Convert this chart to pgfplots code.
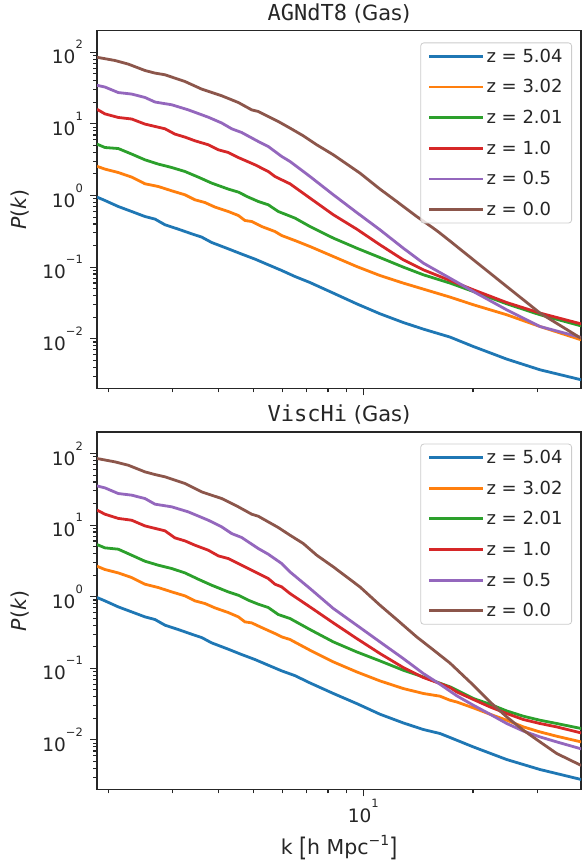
\documentclass[border=0pt]{standalone}
\usepackage{fontspec}
\setmainfont{DejaVu Sans}
\newfontfamily\monofont{DejaVu Sans Mono}
\usepackage{pgfplots}
\pgfplotsset{compat=1.18}
\definecolor{c0}{HTML}{1F77B4}
\definecolor{c1}{HTML}{FF7F0E}
\definecolor{c2}{HTML}{2CA02C}
\definecolor{c3}{HTML}{D62728}
\definecolor{c4}{HTML}{9467BD}
\definecolor{c5}{HTML}{8C564B}
\definecolor{ax}{HTML}{262626}
\definecolor{lgray}{HTML}{CCCCCC}
\newcommand{\sps}[1]{\raisebox{15pt}{\fontsize{11.5}{11.5}\selectfont#1}}
\begin{document}
\begin{tikzpicture}
\useasboundingbox (0,0) rectangle (581pt,864pt);
% ---------------- top panel ----------------
\begin{axis}[at={(97pt,475.7pt)}, anchor=south west,
    xmode=log, ymode=log,
    scale only axis,
    width=484pt, height=357.5pt,
    xmin=1.86, xmax=39.56,
    ymin=2.03e-3, ymax=199.7,
    tick align=outside,
    xtick pos=left, ytick pos=left,
    major tick length=7pt, minor tick length=4pt,
    every tick/.style={ax, line width=1.1pt},
    axis line style={ax, line width=1.25pt},
    xtick={10}, minor xtick={2,3,4,5,6,7,8,9,20,30},
    ytick={0.01,0.1,1,10,100},
    yticklabels={10\sps{−2},10\sps{−1},10\sps{0},10\sps{1},10\sps{2}},
    minor ytick={3e-3,4e-3,5e-3,6e-3,7e-3,8e-3,9e-3,2e-2,3e-2,4e-2,5e-2,6e-2,7e-2,8e-2,9e-2,0.2,0.3,0.4,0.5,0.6,0.7,0.8,0.9,2,3,4,5,6,7,8,9,20,30,40,50,60,70,80,90},
    tick label style={font=\fontsize{18.5}{18.5}\selectfont, text=ax},
    yticklabel style={inner xsep=7pt},
    ylabel={\textit{P}(\textit{k})},
    ylabel style={at={(axis description cs:-0.159,0.5)}, anchor=center, font=\fontsize{20.5}{20.5}\selectfont, text=ax},
    title style={at={(0.5,1)}, anchor=base, yshift=4.3pt, font=\fontsize{21}{21}\selectfont, text=ax},
    legend cell align=left,
    legend style={at={(1,1)}, anchor=north east, xshift=-9pt, yshift=-11.7pt,
      draw=lgray, line width=0.8pt, rounded corners=3pt, fill=white, fill opacity=0.8, text opacity=1,
      font=\fontsize{18}{18}\selectfont, text=ax, inner xsep=7pt, inner ysep=4pt, row sep=11.8pt},
    legend image code/.code={\draw[#1, line width=2.8pt] (0pt,0pt) -- (45pt,0pt); \path (0pt,0pt) -- (54pt,0pt);},
    xticklabels={},
    title={{\fontsize{22}{22}\monofont AGNdT8} (Gas)}]
\addplot[c0, line width=2.8pt] coordinates {(1.86,0.950) (1.956,0.852) (2.127,0.702) (2.315,0.598) (2.518,0.509) (2.683,0.468) (2.858,0.390) (3.108,0.339) (3.382,0.2918) (3.603,0.2624) (3.838,0.2207) (4.262,0.180) (4.639,0.152) (5.045,0.1293) (5.487,0.1077) (5.972,0.0897) (6.495,0.0739) (7.141,0.0609) (8.277,0.0433) (9.592,0.0307) (11.11,0.0223) (12.87,0.01684) (14.61,0.01362) (17.30,0.01053) (20.04,0.00778) (24.74,0.00519) (30.53,0.00368) (39.6,0.00267)};
\addlegendentry{z = 5.04}
\addplot[c1, line width=2.8pt] coordinates {(1.86,2.557) (1.956,2.337) (2.127,2.095) (2.315,1.807) (2.518,1.457) (2.739,1.336) (2.981,1.163) (3.242,1.023) (3.453,0.871) (3.679,0.798) (3.918,0.689) (4.262,0.598) (4.541,0.526) (4.736,0.4475) (4.941,0.4335) (5.263,0.369) (5.724,0.314) (5.972,0.276) (6.495,0.235) (7.141,0.194) (8.277,0.1406) (9.592,0.1019) (11.11,0.0763) (12.87,0.0598) (14.61,0.0493) (17.30,0.0381) (20.04,0.0298) (24.74,0.0216) (30.53,0.0148) (39.6,0.00965)};
\addlegendentry{z = 3.02}
\addplot[c2, line width=2.8pt] coordinates {(1.86,5.22) (1.956,4.68) (2.127,4.53) (2.315,3.79) (2.518,3.15) (2.739,2.745) (2.981,2.461) (3.242,2.164) (3.526,1.807) (3.838,1.490) (4.262,1.229) (4.541,1.116) (4.836,0.950) (5.151,0.825) (5.487,0.742) (5.845,0.598) (6.495,0.4835) (7.141,0.369) (8.277,0.254) (9.592,0.184) (11.11,0.136) (12.87,0.100) (14.61,0.0781) (17.30,0.0598) (20.04,0.0456) (24.74,0.0307) (30.53,0.0216) (39.6,0.0151)};
\addlegendentry{z = 2.01}
\addplot[c3, line width=2.8pt] coordinates {(1.86,16.0) (1.956,13.8) (2.127,12.3) (2.315,11.7) (2.518,9.94) (2.858,8.54) (3.043,7.20) (3.242,6.54) (3.453,5.81) (3.757,5.11) (4.001,4.35) (4.262,3.99) (4.541,3.39) (5.045,2.685) (5.487,2.164) (5.724,1.843) (5.972,1.657) (6.294,1.457) (7.141,0.920) (8.277,0.538) (9.592,0.3394) (11.11,0.2049) (12.87,0.1265) (14.61,0.0917) (17.30,0.0650) (20.04,0.0482) (24.74,0.0320) (30.53,0.0228) (39.6,0.0161)};
\addlegendentry{z = 1.0}
\addplot[c4, line width=2.8pt] coordinates {(1.86,34.6) (1.956,32.7) (2.127,27.4) (2.315,26.1) (2.518,23.4) (2.683,20.2) (2.981,18.5) (3.311,15.7) (3.757,12.4) (4.088,10.3) (4.355,8.54) (4.639,7.58) (5.151,5.68) (5.487,4.83) (5.972,3.51) (6.294,2.985) (7.141,1.843) (8.277,1.023) (9.592,0.579) (11.11,0.332) (12.87,0.184) (14.61,0.1137) (17.30,0.0699) (20.04,0.0456) (24.74,0.0253) (30.53,0.0148) (39.6,0.0104)};
\addlegendentry{z = 0.5}
\addplot[c5, line width=2.8pt] coordinates {(1.86,85.2) (2.084,76.8) (2.266,68.4) (2.518,55.7) (2.683,51.2) (2.858,48.5) (3.242,39.1) (3.603,30.6) (4.088,24.7) (4.541,19.9) (4.941,15.7) (5.151,14.9) (5.845,10.8) (6.294,8.74) (6.845,6.82) (7.451,5.11) (8.277,3.70) (9.79,2.055) (11.11,1.229) (12.35,0.825) (14.01,0.509) (15.56,0.3505) (16.23,0.2985) (17.30,0.2307) (20.04,0.1265) (24.74,0.0536) (30.53,0.0228) (39.6,0.0101)};
\addlegendentry{z = 0.0}
\end{axis}
% ---------------- bottom panel ----------------
\begin{axis}[at={(97pt,74.5pt)}, anchor=south west,
    xmode=log, ymode=log,
    scale only axis,
    width=484pt, height=357.5pt,
    xmin=1.86, xmax=39.56,
    ymin=2.03e-3, ymax=199.7,
    tick align=outside,
    xtick pos=left, ytick pos=left,
    major tick length=7pt, minor tick length=4pt,
    every tick/.style={ax, line width=1.1pt},
    axis line style={ax, line width=1.25pt},
    xtick={10}, minor xtick={2,3,4,5,6,7,8,9,20,30},
    ytick={0.01,0.1,1,10,100},
    yticklabels={10\sps{−2},10\sps{−1},10\sps{0},10\sps{1},10\sps{2}},
    minor ytick={3e-3,4e-3,5e-3,6e-3,7e-3,8e-3,9e-3,2e-2,3e-2,4e-2,5e-2,6e-2,7e-2,8e-2,9e-2,0.2,0.3,0.4,0.5,0.6,0.7,0.8,0.9,2,3,4,5,6,7,8,9,20,30,40,50,60,70,80,90},
    tick label style={font=\fontsize{18.5}{18.5}\selectfont, text=ax},
    yticklabel style={inner xsep=7pt},
    xticklabel style={inner ysep=2pt},
    ylabel={\textit{P}(\textit{k})},
    ylabel style={at={(axis description cs:-0.159,0.5)}, anchor=center, font=\fontsize{20.5}{20.5}\selectfont, text=ax},
    title style={at={(0.5,1)}, anchor=base, yshift=4.3pt, font=\fontsize{21}{21}\selectfont, text=ax},
    legend cell align=left,
    legend style={at={(1,1)}, anchor=north east, xshift=-9pt, yshift=-11.7pt,
      draw=lgray, line width=0.8pt, rounded corners=3pt, fill=white, fill opacity=0.8, text opacity=1,
      font=\fontsize{18}{18}\selectfont, text=ax, inner xsep=7pt, inner ysep=4pt, row sep=11.8pt},
    legend image code/.code={\draw[#1, line width=2.8pt] (0pt,0pt) -- (45pt,0pt); \path (0pt,0pt) -- (54pt,0pt);},
    xticklabels={10\sps{1}},
    xlabel={k \raisebox{-2pt}{\scalebox{1}[1.25]{[}}h Mpc\raisebox{9pt}{\fontsize{14}{14}\selectfont −1}\raisebox{-2pt}{\scalebox{1}[1.25]{]}}},
    xlabel style={at={(axis description cs:0.5,0)}, anchor=base, yshift=-65pt, font=\fontsize{20.5}{20.5}\selectfont, text=ax},
    title={{\fontsize{22}{22}\monofont ViscHi} (Gas)}]
\addplot[c0, line width=2.8pt] coordinates {(1.86,0.974) (1.956,0.875) (2.127,0.721) (2.315,0.614) (2.518,0.523) (2.683,0.480) (2.858,0.400) (3.108,0.348) (3.382,0.2995) (3.603,0.269) (3.838,0.2266) (4.262,0.1849) (4.639,0.1557) (5.045,0.1326) (5.487,0.1105) (5.972,0.0921) (6.495,0.0790) (7.141,0.0625) (8.277,0.0445) (9.592,0.0322) (11.11,0.02285) (12.87,0.01728) (14.61,0.01397) (16.23,0.01229) (17.30,0.0108) (20.04,0.00798) (24.74,0.00532) (30.53,0.00386) (39.6,0.0028)};
\addlegendentry{z = 5.04}
\addplot[c1, line width=2.8pt] coordinates {(1.86,2.667) (1.956,2.396) (2.127,2.151) (2.315,1.852) (2.518,1.495) (2.739,1.343) (2.981,1.168) (3.242,1.027) (3.453,0.875) (3.679,0.803) (3.918,0.698) (4.262,0.601) (4.541,0.523) (4.736,0.445) (4.941,0.431) (5.263,0.371) (5.724,0.306) (5.972,0.2748) (6.294,0.2525) (7.141,0.179) (8.277,0.1229) (9.592,0.0891) (11.11,0.0667) (12.87,0.0522) (14.61,0.0445) (16.23,0.0408) (17.30,0.0358) (18.04,0.0339) (20.04,0.0280) (22.26,0.02285) (24.74,0.01884) (27.48,0.0152) (30.53,0.01293) (33.93,0.01126) (39.6,0.00938)};
\addlegendentry{z = 3.02}
\addplot[c2, line width=2.8pt] coordinates {(1.86,5.35) (1.956,4.81) (2.127,4.61) (2.315,3.80) (2.518,3.13) (2.739,2.754) (2.981,2.474) (3.242,2.151) (3.526,1.755) (3.838,1.447) (4.262,1.168) (4.541,1.049) (4.836,0.894) (5.151,0.786) (5.487,0.706) (5.845,0.564) (6.294,0.496) (7.141,0.348) (8.277,0.2337) (9.592,0.1695) (11.11,0.1269) (12.87,0.0941) (14.61,0.0758) (16.23,0.0619) (17.30,0.0551) (20.04,0.0379) (22.26,0.0315) (24.74,0.0254) (27.48,0.02143) (30.53,0.01884) (33.93,0.01695) (39.6,0.01443)};
\addlegendentry{z = 2.01}
\addplot[c3, line width=2.8pt] coordinates {(1.86,16.2) (1.956,14.2) (2.127,12.4) (2.315,11.7) (2.518,9.75) (2.858,8.31) (3.043,6.63) (3.242,6.02) (3.453,5.24) (3.757,4.46) (4.001,3.72) (4.262,3.41) (4.541,2.906) (5.045,2.223) (5.487,1.794) (5.724,1.495) (5.972,1.372) (6.294,1.108) (7.141,0.720) (8.277,0.4306) (9.592,0.2608) (11.11,0.1609) (12.87,0.1026) (14.61,0.0744) (16.23,0.0613) (17.30,0.0539) (18.04,0.0468) (20.04,0.0367) (22.26,0.0289) (24.74,0.02337) (27.48,0.01927) (30.53,0.01695) (33.93,0.0152) (39.6,0.01252)};
\addlegendentry{z = 1.0}
\addplot[c4, line width=2.8pt] coordinates {(1.86,35.3) (1.956,33.1) (2.127,27.6) (2.315,26.2) (2.518,23.5) (2.683,19.6) (2.981,18.0) (3.311,15.3) (3.757,11.7) (4.088,9.45) (4.355,7.62) (4.639,6.71) (5.151,4.71) (5.487,3.92) (5.972,2.906) (6.294,2.220) (7.141,1.302) (8.277,0.684) (9.592,0.400) (11.11,0.2337) (12.87,0.1370) (14.61,0.0846) (16.23,0.0599) (17.30,0.0479) (18.04,0.0414) (20.04,0.0305) (22.26,0.02285) (24.74,0.01695) (27.48,0.0133) (30.53,0.01101) (33.93,0.00938) (39.6,0.00750)};
\addlegendentry{z = 0.5}
\addplot[c5, line width=2.8pt] coordinates {(1.86,85.1) (2.084,76.4) (2.266,68.6) (2.518,55.4) (2.683,50.8) (2.858,47.2) (3.242,38.1) (3.603,29.1) (4.088,23.5) (4.541,18.0) (4.941,14.2) (5.151,13.3) (5.845,9.25) (6.294,7.23) (6.845,5.53) (7.451,3.80) (8.277,2.608) (9.79,1.370) (11.11,0.761) (12.35,0.480) (14.01,0.2745) (15.56,0.181) (17.30,0.118) (20.04,0.0581) (22.26,0.0339) (24.74,0.02096) (27.48,0.01366) (30.53,0.00938) (33.93,0.00646) (39.6,0.00440)};
\addlegendentry{z = 0.0}
\end{axis}
\end{tikzpicture}
\end{document}
